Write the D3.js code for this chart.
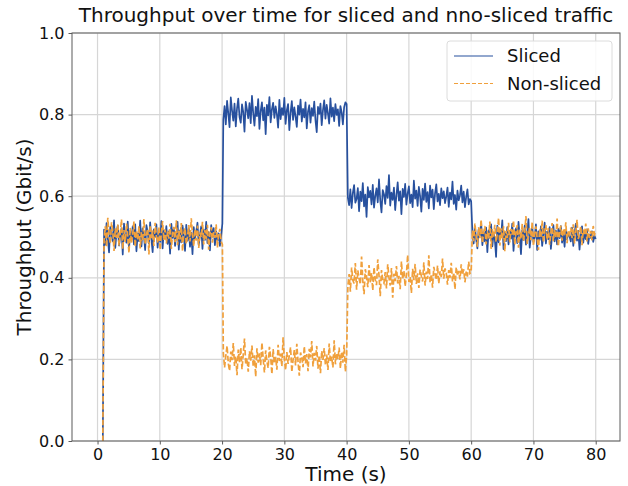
<!DOCTYPE html>
<html>
<head>
<meta charset="utf-8">
<script src="https://cdn.jsdelivr.net/npm/d3@7"></script>
<style>
  body { margin: 0; background: #fff; }
  svg { font-family: "DejaVu Sans", sans-serif; }
</style>
</head>
<body>
<div id="chart"></div>
<script>
// one sample every 0.2 s, values in Mbit/s
const STEP = 0.2;
const phaseStarts = [0.85, 20.2, 40.2, 60.2];

const slicedP1 = [0,
  518, 481, 534, 497, 462, 525, 508, 489, 541, 473,
  512, 528, 479, 503, 521, 457, 533, 499, 486, 538,
  470, 515, 494, 526, 482, 531, 465, 509, 490, 540,
  477, 521, 503, 468, 529, 512, 484, 536, 495, 463,
  519, 500, 531, 474, 511, 488, 539, 472, 517, 496,
  527, 483, 514, 459, 532, 498, 522, 478, 507, 537,
  469, 516, 487, 528, 503, 466, 530, 491, 520, 476,
  510, 458, 524, 496, 513, 535, 480, 506, 526, 471,
  518, 493, 537, 485, 512, 467, 529, 501, 522, 480,
  514, 492, 509, 478, 503, 533];
const slicedP2 = [
  788, 821, 776, 834, 803, 769, 842, 810, 785, 827,
  771, 815, 839, 794, 780, 825, 806, 758, 831, 812,
  791, 828, 779, 846, 804, 773, 819, 796, 838, 765,
  809, 830, 786, 817, 752, 824, 798, 843, 781, 813,
  829, 792, 820, 801, 768, 836, 789, 816, 799, 841,
  777, 811, 826, 762, 805, 833, 787, 818, 795, 770,
  822, 800, 837, 783, 814, 793, 830, 766, 808, 823,
  780, 816, 797, 832, 786, 757, 819, 802, 827, 774,
  811, 835, 790, 824, 803, 778, 840, 795, 817, 784,
  826, 799, 813, 772, 821, 806, 776, 818, 830, 826];
const slicedP3 = [
  596, 578, 617, 571, 608, 627, 584, 593, 620, 563,
  611, 588, 632, 575, 604, 549, 622, 597, 613, 580,
  628, 572, 601, 619, 585, 641, 590, 560, 615, 605,
  581, 625, 596, 652, 577, 609, 591, 621, 566, 603,
  634, 589, 612, 556, 618, 598, 630, 579, 607, 624,
  583, 604, 573, 638, 594, 614, 576, 623, 600, 562,
  618, 591, 631, 586, 610, 570, 626, 597, 616, 568,
  607, 629, 587, 606, 578, 619, 595, 612, 583, 599,
  621, 574, 609, 592, 636, 581, 603, 567, 614, 590,
  602, 626, 585, 611, 573, 598, 617, 580, 593, 588];
const slicedP4 = [
  510, 484, 527, 495, 472, 519, 503, 536, 480, 512,
  489, 523, 463, 516, 498, 531, 477, 508, 494, 451,
  528, 487, 518, 501, 541, 470, 512, 490, 524, 482,
  515, 496, 533, 466, 507, 521, 485, 537, 499, 458,
  517, 492, 528, 481, 509, 544, 474, 503, 522, 488,
  500, 531, 468, 514, 493, 526, 478, 506, 535, 484,
  513, 495, 524, 471, 504, 529, 489, 516, 482, 520,
  497, 527, 486, 509, 476, 518, 494, 511, 501, 489,
  523, 478, 507, 532, 491, 515, 469, 504, 526, 486,
  511, 495, 519, 483, 506, 498, 514, 488, 503, 495];

const nonSlicedP1 = [0,
  492, 526, 475, 547, 505, 483, 536, 514, 466, 521,
  498, 531, 479, 510, 543, 470, 517, 488, 533, 502,
  461, 523, 485, 508, 538, 476, 515, 494, 527, 472,
  512, 490, 544, 481, 506, 520, 457, 529, 497, 516,
  478, 535, 503, 486, 524, 468, 511, 539, 492, 518,
  484, 513, 496, 532, 471, 507, 525, 487, 541, 480,
  515, 494, 534, 465, 509, 522, 483, 501, 529, 489,
  546, 506, 477, 519, 491, 528, 473, 511, 500, 537,
  482, 517, 495, 530, 469, 508, 524, 486, 512, 498,
  531, 474, 507, 520, 489, 482];
const nonSlicedP2 = [
  216, 180, 209, 233, 190, 172, 219, 198, 240, 184,
  208, 161, 224, 193, 229, 176, 212, 251, 187, 203,
  170, 220, 197, 234, 182, 210, 158, 227, 192, 215,
  186, 241, 202, 168, 222, 195, 179, 231, 207, 164,
  225, 191, 206, 175, 236, 196, 214, 183, 254, 201,
  174, 218, 189, 211, 230, 169, 199, 223, 185, 238,
  194, 160, 217, 204, 181, 232, 190, 213, 171, 226,
  205, 245, 183, 216, 197, 233, 177, 210, 166, 221,
  199, 228, 186, 212, 174, 239, 193, 207, 180, 247,
  188, 215, 201, 229, 178, 219, 192, 236, 170, 211];
const nonSlicedP3 = [
  380, 409, 366, 425, 394, 386, 436, 371, 418, 398,
  384, 452, 392, 360, 421, 403, 377, 431, 389, 412,
  369, 426, 396, 382, 445, 406, 355, 419, 393, 387,
  414, 374, 433, 401, 381, 424, 351, 410, 392, 429,
  386, 405, 372, 440, 397, 417, 379, 408, 456, 390,
  402, 363, 422, 394, 434, 385, 411, 375, 420, 404,
  391, 438, 381, 415, 397, 455, 388, 409, 376, 427,
  410, 395, 430, 386, 416, 402, 447, 398, 423, 412,
  383, 419, 400, 437, 391, 413, 372, 426, 405, 417,
  396, 433, 408, 421, 389, 415, 403, 440, 411, 414];
const nonSlicedP4 = [
  516, 490, 533, 502, 476, 524, 497, 543, 485, 511,
  527, 482, 514, 496, 538, 471, 519, 501, 530, 488,
  509, 547, 479, 521, 494, 526, 465, 515, 498, 535,
  487, 520, 506, 541, 481, 512, 529, 474, 518, 495,
  532, 489, 513, 551, 483, 505, 524, 492, 537, 478,
  508, 526, 496, 468, 519, 500, 540, 486, 514, 529,
  493, 522, 481, 510, 534, 490, 517, 499, 545, 477,
  512, 528, 491, 520, 503, 536, 485, 516, 507, 523,
  497, 531, 484, 513, 542, 495, 509, 526, 480, 518,
  504, 533, 489, 521, 498, 515, 492, 527, 506, 512];

const xTicks = [0, 10, 20, 30, 40, 50, 60, 70, 80];
const yTicks = [0, 0.2, 0.4, 0.6, 0.8, 1.0];

const seriesNames = ["Sliced", "Non-sliced"];
const seriesColors = ["#27509e", "#f0a03c"];

function buildSeries(phases) {
  const pts = [];
  phases.forEach((vals, p) => {
    vals.forEach((v, j) => pts.push({ t: phaseStarts[p] + j * STEP, v: v / 1000 }));
  });
  return pts;
}

const sliced = buildSeries([slicedP1, slicedP2, slicedP3, slicedP4]);
const nonSliced = buildSeries([nonSlicedP1, nonSlicedP2, nonSlicedP3, nonSlicedP4]);

const width = 628, height = 486;
const margin = { top: 33, right: 8, bottom: 45, left: 72 };

const svg = d3.select("#chart").append("svg")
  .attr("width", width)
  .attr("height", height);

const x = d3.scaleLinear().domain([-4.1, 83.9]).range([margin.left, width - margin.right]);
const y = d3.scaleLinear().domain([0, 1]).range([height - margin.bottom, margin.top]);

// grid
svg.append("g").selectAll("line")
  .data(xTicks).join("line")
  .attr("x1", d => x(d)).attr("x2", d => x(d))
  .attr("y1", y(0)).attr("y2", y(1))
  .attr("stroke", "#d6d6d6").attr("stroke-width", 1.2);
svg.append("g").selectAll("line")
  .data(yTicks).join("line")
  .attr("x1", x.range()[0]).attr("x2", x.range()[1])
  .attr("y1", d => y(d)).attr("y2", d => y(d))
  .attr("stroke", "#d6d6d6").attr("stroke-width", 1.2);

// lines
const line = d3.line().x(d => x(d.t)).y(d => y(d.v));

const plot = svg.append("g");
plot.append("path")
  .datum(sliced)
  .attr("fill", "none")
  .attr("stroke", seriesColors[0])
  .attr("stroke-width", 1.7)
  .attr("stroke-linejoin", "round")
  .attr("d", line);
plot.append("path")
  .datum(nonSliced)
  .attr("fill", "none")
  .attr("stroke", seriesColors[1])
  .attr("stroke-width", 1.7)
  .attr("stroke-dasharray", "5.5,2.4")
  .attr("d", line);

// spines
svg.append("rect")
  .attr("x", x.range()[0]).attr("y", y(1))
  .attr("width", x.range()[1] - x.range()[0])
  .attr("height", y(0) - y(1))
  .attr("fill", "none")
  .attr("stroke", "#5a5a5a")
  .attr("stroke-width", 1);

// axes
const xAxis = svg.append("g")
  .attr("transform", `translate(0,${y(0)})`)
  .call(d3.axisBottom(x).tickValues(xTicks).tickFormat(d3.format("d")).tickSizeOuter(0).tickSize(3.5).tickPadding(4));
const yAxis = svg.append("g")
  .attr("transform", `translate(${x.range()[0]},0)`)
  .call(d3.axisLeft(y).tickValues(yTicks).tickFormat(d3.format(".1f")).tickSizeOuter(0).tickSize(3.5).tickPadding(4));

[xAxis, yAxis].forEach(a => {
  a.select(".domain").remove();
  a.selectAll(".tick line").attr("stroke", "#5a5a5a");
  a.selectAll(".tick text")
    .attr("fill", "#111")
    .style("font-family", "'DejaVu Sans', sans-serif")
    .style("font-size", "16px");
});

// labels
svg.append("text")
  .attr("x", (x.range()[0] + x.range()[1]) / 2)
  .attr("y", 22)
  .attr("text-anchor", "middle")
  .style("font-size", "20px")
  .attr("fill", "#111")
  .text("Throughput over time for sliced and nno-sliced traffic");

svg.append("text")
  .attr("x", (x.range()[0] + x.range()[1]) / 2)
  .attr("y", 481)
  .attr("text-anchor", "middle")
  .style("font-size", "20px")
  .attr("fill", "#111")
  .text("Time (s)");

svg.append("text")
  .attr("transform", `translate(31,${(y(0) + y(1)) / 2}) rotate(-90)`)
  .attr("text-anchor", "middle")
  .style("font-size", "20px")
  .attr("fill", "#111")
  .text("Throughput (Gbit/s)");

// legend
const legend = svg.append("g").attr("transform", "translate(447,41)");
legend.append("rect")
  .attr("width", 165).attr("height", 60)
  .attr("rx", 3)
  .attr("fill", "rgba(255,255,255,0.85)")
  .attr("stroke", "#dcdcdc");
seriesNames.forEach((name, i) => {
  const ly = 15 + i * 27.5;
  legend.append("line")
    .attr("x1", 7).attr("x2", 46)
    .attr("y1", ly).attr("y2", ly)
    .attr("stroke", seriesColors[i])
    .attr("stroke-width", 1.2)
    .attr("stroke-dasharray", i === 1 ? "4,2" : null);
  legend.append("text")
    .attr("x", 60).attr("y", ly)
    .attr("dy", "0.35em")
    .style("font-size", "18px")
    .attr("fill", "#111")
    .text(name);
});
</script>
</body>
</html>
